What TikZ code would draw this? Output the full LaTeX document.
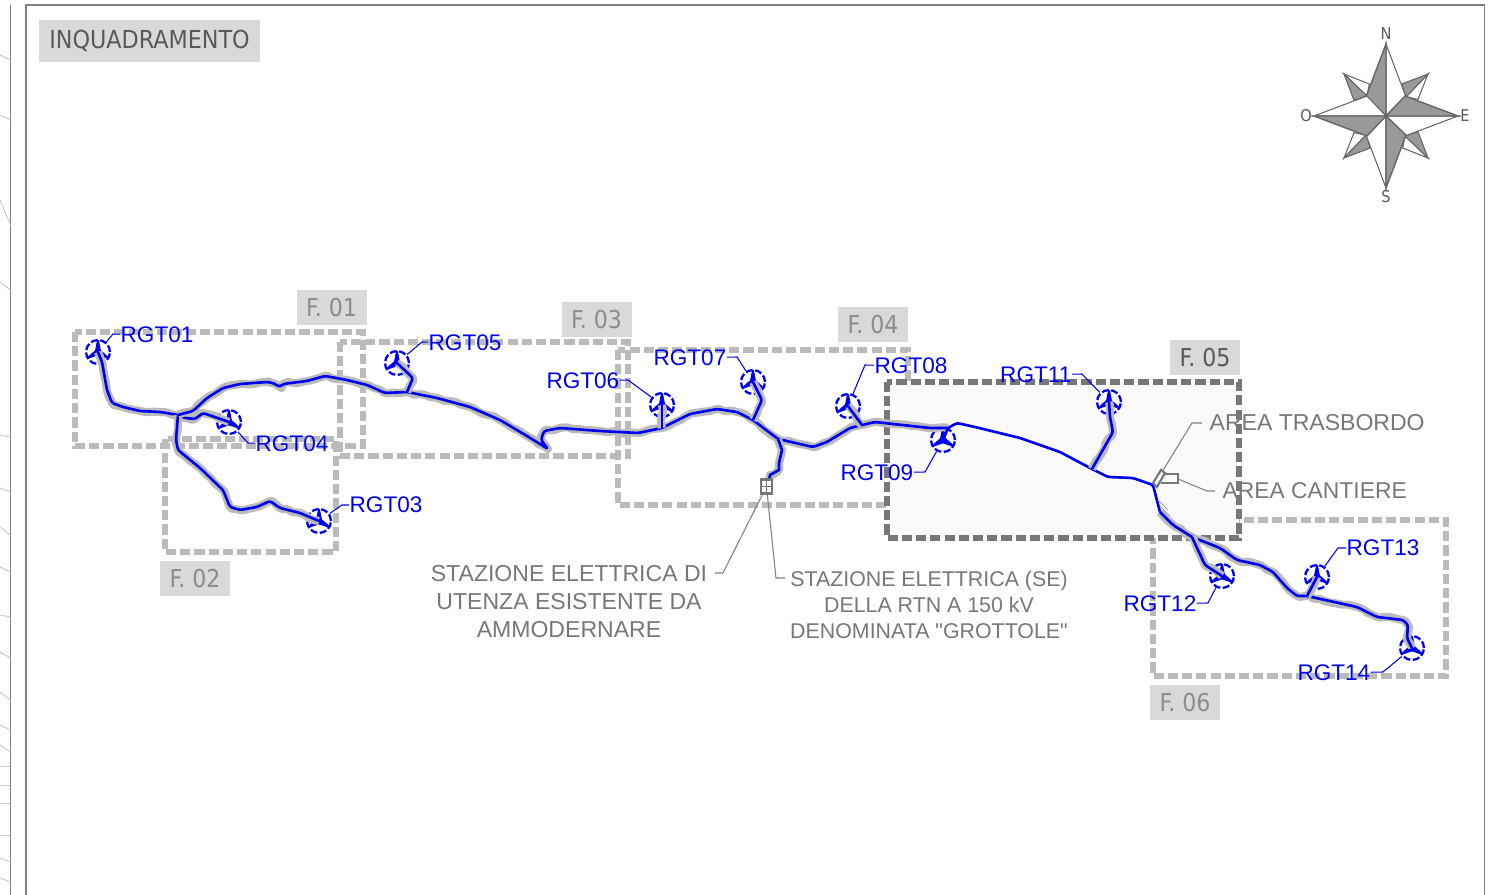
\documentclass[tikz,border=0pt]{standalone}
\usepackage{fontspec}
\setmainfont{Liberation Sans}
\newfontfamily\titlefont{DejaVu Sans Condensed}
\newfontfamily\plainfont{Liberation Sans}
\usepackage{tikz}
\usetikzlibrary{positioning,decorations.pathmorphing}
\definecolor{framegray}{HTML}{BBBBBB}
\definecolor{framedark}{HTML}{777777}
\definecolor{boxgray}{HTML}{D9D9D9}
\definecolor{labelgray}{HTML}{777777}
\definecolor{rtblue}{HTML}{0000F0}
\tikzset{
  sheetline/.style={draw=gray,line width=0.5pt},
  tickline/.style={draw=gray!45,line width=0.25pt},
  fieldframe/.style={draw=framegray,line width=1.6pt,dash pattern=on 2.9pt off 1.15pt},
  framefive/.style={draw=framedark,fill=black!2,line width=1.6pt,dash pattern=on 2.9pt off 1.15pt},
  tag/.style={fill=boxgray,text=black!45,inner sep=0pt,minimum width=0.7cm,minimum height=0.35cm,font=\titlefont\fontsize{7}{8}\selectfont},
  road/.style={draw=rtblue,line width=0.75pt,line join=round,rounded corners=0.7pt,preaction={draw=framegray,line width=2.3pt,line join=round,miter limit=1,decorate,decoration={random steps,segment length=1.6pt,amplitude=0.45pt}}},
  bareroad/.style={draw=rtblue,line width=0.75pt,line join=round,rounded corners=0.7pt},
  turbine/.style={circle,draw=rtblue,line width=0.65pt,dash pattern=on 2pt off 0.7pt,fill=none,minimum size=0.24cm,inner sep=0pt,
    path picture={
      \fill[rtblue] (path picture bounding box.center) +(-0.032,0) -- +(-0.007,0.13) -- +(0.007,0.13) -- +(0.032,0) -- cycle;
      \fill[rtblue] (path picture bounding box.center) +(0.016,-0.028) -- +(-0.109,-0.071) -- +(-0.116,-0.059) -- +(-0.016,0.028) -- cycle;
      \fill[rtblue] (path picture bounding box.center) +(0.016,0.028) -- +(0.116,-0.059) -- +(0.109,-0.071) -- +(-0.016,-0.028) -- cycle;
    }},
  rgt/.style={text=rtblue,inner sep=0pt,font=\fontsize{6.42}{7.8}\selectfont},
  leader/.style={draw=rtblue,line width=0.3pt},
  note/.style={text=labelgray,inner sep=0pt,align=center},
  noteline/.style={draw=gray,line width=0.3pt}
}
\begin{document}
\begin{tikzpicture}
   \useasboundingbox (0,0) rectangle (14.88,-8.95);
   % sheet
   \draw[sheetline] (0.105,-0.05) -- (0.105,-8.95);
   \draw[sheetline] (0.26,-8.95) -- (0.26,-0.05) -- (14.845,-0.05) -- (14.845,-8.95);
   \foreach \ya/\yb in {0.55/0.6, 1.15/1.2, 2.0/2.25, 2.82/2.9, 4.35/4.37, 4.88/4.92, 5.27/5.35, 5.67/5.72, 6.15/6.17, 6.52/6.58, 6.92/7.0, 7.25/7.3, 7.45/7.52, 7.66/7.66, 7.85/7.85, 8.03/8.03, 8.35/8.35, 8.58/8.62, 8.78/8.82}
     \draw[tickline] (0.0,-\ya) -- (0.105,-\yb);

   \node[tag,minimum width=2.21cm,minimum height=0.42cm,text=black!65,font=\titlefont\fontsize{7.05}{9}\selectfont] (title) at (1.495,-0.41) {INQUADRAMENTO};

   % compass
   \begin{scope}[shift={(13.86,-1.16)}]
     \foreach \r in {0,-90,-180,-270} {
       \begin{scope}[rotate=\r]
         \filldraw[fill=white,draw=black!60,line width=0.3pt] (0.42,0.42) -- (0.2,0.19) -- (0.32,0.167) -- cycle;
         \filldraw[fill=black!40,draw=black!60,line width=0.3pt] (0.42,0.42) -- (0.157,0.32) -- (0.2,0.19) -- cycle;
       \end{scope}
     }
     \foreach \r in {0,-90,-180,-270} {
       \begin{scope}[rotate=\r]
         \filldraw[fill=white,draw=black!60,line width=0.3pt] (0,0) -- (0,0.72) -- (0.2,0.19) -- cycle;
         \filldraw[fill=black!40,draw=black!60,line width=0.4pt] (0,0) -- (0,0.72) -- (-0.2,0.19) -- cycle;
       \end{scope}
     }
     \begin{scope}[every node/.style={text=black!65,inner sep=0pt,font=\titlefont\fontsize{4.6}{5}\selectfont}]
       \node (north) at (0,0.82) {N};
       \node (east) at (0.79,0) {E};
       \node (south) at (0,-0.81) {S};
       \node (west) at (-0.8,0) {O};
     \end{scope}
   \end{scope}

   % sheet frames
   \draw[fieldframe] (0.75,-3.32) rectangle (3.63,-4.46);
   \draw[fieldframe] (1.65,-4.39) rectangle (3.36,-5.52);
   \draw[fieldframe] (3.40,-3.42) rectangle (6.28,-4.56);
   \draw[fieldframe] (6.18,-3.50) rectangle (9.08,-5.05);
   \draw[fieldframe] (11.53,-5.20) rectangle (14.46,-6.76);
   \draw[framefive] (8.87,-3.82) rectangle (12.39,-5.38);
   \node[tag] (f01) at (3.315,-3.08) {F. 01};
   \node[tag] (f02) at (1.95,-5.79) {F. 02};
   \node[tag] (f03) at (5.965,-3.195) {F. 03};
   \node[tag] (f04) at (8.73,-3.25) {F. 04};
   \node[tag,text=black!65] (f05) at (12.05,-3.575) {F. 05};
   \node[tag] (f06) at (11.85,-7.025) {F. 06};

   % turbines
   \begin{scope}[every node/.style={turbine}]
    \node (t01) at (0.98,-3.52) {};
    \node (t03) at (3.19,-5.21) {};
    \node (t04) at (2.29,-4.22) {};
    \node (t05) at (3.97,-3.63) {};
    \node (t06) at (6.62,-4.05) {};
    \node (t07) at (7.53,-3.82) {};
    \node (t08) at (8.48,-4.06) {};
    \node (t09) at (9.43,-4.40) {};
    \node (t11) at (11.09,-4.02) {};
    \node (t12) at (12.22,-5.76) {};
    \node (t13) at (13.17,-5.77) {};
    \node (t14) at (14.12,-6.48) {};
   \end{scope}

   % junctions of the roads
   \coordinate (j01) at (1.78,-4.15);
   \coordinate (j05) at (4.07,-3.92);
   \coordinate (j06) at (6.62,-4.28);
   \coordinate (j07) at (7.53,-4.20);
   \coordinate (jse) at (7.78,-4.39);
   \coordinate (j08) at (8.62,-4.25);
   \coordinate (j09) at (9.57,-4.23);
   \coordinate (j11) at (10.92,-4.69);
   \coordinate (j12) at (11.92,-5.37);
   \coordinate (j13) at (13.07,-5.96);

   \draw[road] (t01.center) -- (1.02,-3.62) -- (1.07,-3.90) -- (1.12,-4.03) -- (1.23,-4.07) -- (1.40,-4.11) -- (1.60,-4.12) -- (j01);
   \draw[road] (t04.center) -- (2.03,-4.13) -- (1.95,-4.19) -- (1.85,-4.18) -- (j01);
   \draw[road] (j01) -- (1.76,-4.40) -- (1.78,-4.50) -- (2.00,-4.68) -- (2.23,-4.90) -- (2.30,-5.07) -- (2.40,-5.10) -- (2.57,-5.07) -- (2.70,-5.01) -- (2.80,-5.08) -- (3.00,-5.13) -- (t03.center);
   \draw[road] (j01) -- (1.93,-4.11) -- (2.07,-3.98) -- (2.23,-3.88) -- (2.40,-3.84) -- (2.67,-3.82) -- (2.73,-3.83) -- (2.80,-3.87) -- (2.83,-3.84) -- (3.07,-3.81) -- (3.25,-3.76) -- (3.47,-3.80) -- (3.67,-3.85) -- (3.85,-3.93) -- (j05)
     -- (4.37,-3.98) -- (4.70,-4.07) -- (5.00,-4.20) -- (5.27,-4.36) -- (5.48,-4.49) -- (5.41,-4.40) -- (5.44,-4.31) -- (5.60,-4.28) -- (6.00,-4.31) -- (6.38,-4.33) -- (j06) -- (6.90,-4.14) -- (7.17,-4.09) -- (7.37,-4.12) -- (j07) -- (jse) -- (8.13,-4.47) -- (8.27,-4.42) -- (8.50,-4.28) -- (j08) -- (8.75,-4.22) -- (8.93,-4.24) -- (9.30,-4.28) -- (9.48,-4.28);
   \draw[road] (t05.center) -- (4.13,-3.78) -- (j05);
   \draw[road] (t06.center) -- (j06);
   \draw[road] (t07.center) -- (7.62,-4.0) -- (j07);
   \draw[road] (t08.center) -- (j08);
   \draw[bareroad] (t09.center) -- (9.48,-4.28) -- (j09) -- (9.75,-4.27) -- (10.20,-4.38) -- (10.60,-4.52) -- (j11) -- (11.08,-4.77) -- (11.33,-4.78) -- (11.53,-4.85) -- (11.60,-5.12);
   \draw[road] (t11.center) -- (11.10,-4.17) -- (11.13,-4.32) -- (j11);
   \draw[road] (11.60,-5.12) -- (11.73,-5.25) -- (j12) -- (12.20,-5.48) -- (12.37,-5.60) -- (12.60,-5.65) -- (12.73,-5.72) -- (12.87,-5.88) -- (12.97,-5.96) -- (j13) -- (13.57,-6.07) -- (13.77,-6.17) -- (14.03,-6.20) -- (14.08,-6.25) -- (14.07,-6.38) -- (t14.center);
   \draw[road] (j12) -- (11.97,-5.48) -- (12.05,-5.65) -- (t12.center);
   \draw[road] (t13.center) -- (j13);
   \draw[road,sharp corners] (jse) -- (7.82,-4.50) -- (7.79,-4.63) -- (7.79,-4.70) -- (7.70,-4.75) -- (7.69,-4.80);

   % station and site areas
   \node[draw=framedark,fill=white,line width=0.6pt,minimum width=0.11cm,minimum height=0.14cm,inner sep=0pt] (stn) at (7.665,-4.865) {};
   \draw[draw=framedark,line width=0.5pt] (stn.north) -- (stn.south) (stn.west) -- (stn.east);
   \coordinate (trs) at (11.62,-4.72);
   \coordinate (cnt) at (11.78,-4.79);
   \draw[draw=framedark,line width=0.6pt] (11.53,-4.83) -- (11.61,-4.70) -- (11.65,-4.73) -- (11.57,-4.87) -- cycle;
   \draw[draw=framedark,line width=0.6pt] (11.65,-4.74) -- (11.78,-4.74) -- (cnt) -- (11.78,-4.83) -- (11.61,-4.83);
   \draw[draw=gray!70,line width=0.25pt] (11.58,-5.0) -- (11.68,-5.10) (11.60,-5.06) -- (11.70,-5.16);

   % turbine labels
   \begin{scope}[every node/.style={rgt}]
    \node[anchor=west] (l01) at (1.20,-3.35) {RGT01};
    \node[anchor=west] (l03) at (3.49,-5.05) {RGT03};
    \node[anchor=west] (l04) at (2.55,-4.44) {RGT04};
    \node[anchor=west] (l05) at (4.28,-3.43) {RGT05};
    \node[anchor=east] (l06) at (6.20,-3.81) {RGT06};
    \node[anchor=east] (l07) at (7.27,-3.58) {RGT07};
    \node[anchor=west] (l08) at (8.74,-3.66) {RGT08};
    \node[anchor=east] (l09) at (9.14,-4.73) {RGT09};
    \node[anchor=east] (l11) at (10.72,-3.75) {RGT11};
    \node[anchor=east] (l12) at (11.97,-6.04) {RGT12};
    \node[anchor=west] (l13) at (13.46,-5.48) {RGT13};
    \node[anchor=east] (l14) at (13.71,-6.73) {RGT14};
   \end{scope}
   \draw[leader] (t01) -- (1.13,-3.34) -- (l01);
   \draw[leader] (t03) -- (3.42,-5.05) -- (l03);
   \draw[leader] (t04) -- (2.48,-4.43) -- (l04);
   \draw[leader] (t05) -- (4.22,-3.42) -- (l05);
   \draw[leader] (t06) -- (6.28,-3.80) -- (l06);
   \draw[leader] (t07) -- (7.37,-3.57) -- (l07);
   \draw[leader] (t08) -- (8.65,-3.65) -- (l08);
   \draw[leader] (t09) -- (9.25,-4.72) -- (l09);
   \draw[leader] (t11) -- (10.82,-3.74) -- (l11);
   \draw[leader] (t12) -- (12.08,-6.03) -- (l12);
   \draw[leader] (t13) -- (13.38,-5.48) -- (l13);
   \draw[leader] (t14) -- (13.83,-6.72) -- (l14);

   % notes
   \node[note,font=\fontsize{6.56}{7.95}\selectfont] (ute) at (5.69,-6.02) {STAZIONE ELETTRICA DI\\UTENZA ESISTENTE DA\\AMMODERNARE};
   \node[note,font=\plainfont\fontsize{6.08}{7.4}\selectfont] (rtn) at (9.29,-6.05) {STAZIONE ELETTRICA (SE)\\DELLA RTN A 150 kV\\DENOMINATA "GROTTOLE"};
   \node[note,anchor=west,font=\fontsize{6.55}{7.8}\selectfont] (atr) at (12.09,-4.23) {AREA TRASBORDO};
   \node[note,anchor=west,font=\fontsize{6.5}{7.8}\selectfont] (acn) at (12.22,-4.91) {AREA CANTIERE};
   \draw[noteline] (stn) -- (7.23,-5.73) -- (7.15,-5.73);
   \draw[noteline] (stn) -- (7.76,-5.78) -- (7.85,-5.78);
   \draw[noteline] (trs) -- (11.92,-4.23) -- (12.02,-4.23);
   \draw[noteline] (cnt) -- (12.07,-4.91) -- (12.15,-4.91);
\end{tikzpicture}
\end{document}
